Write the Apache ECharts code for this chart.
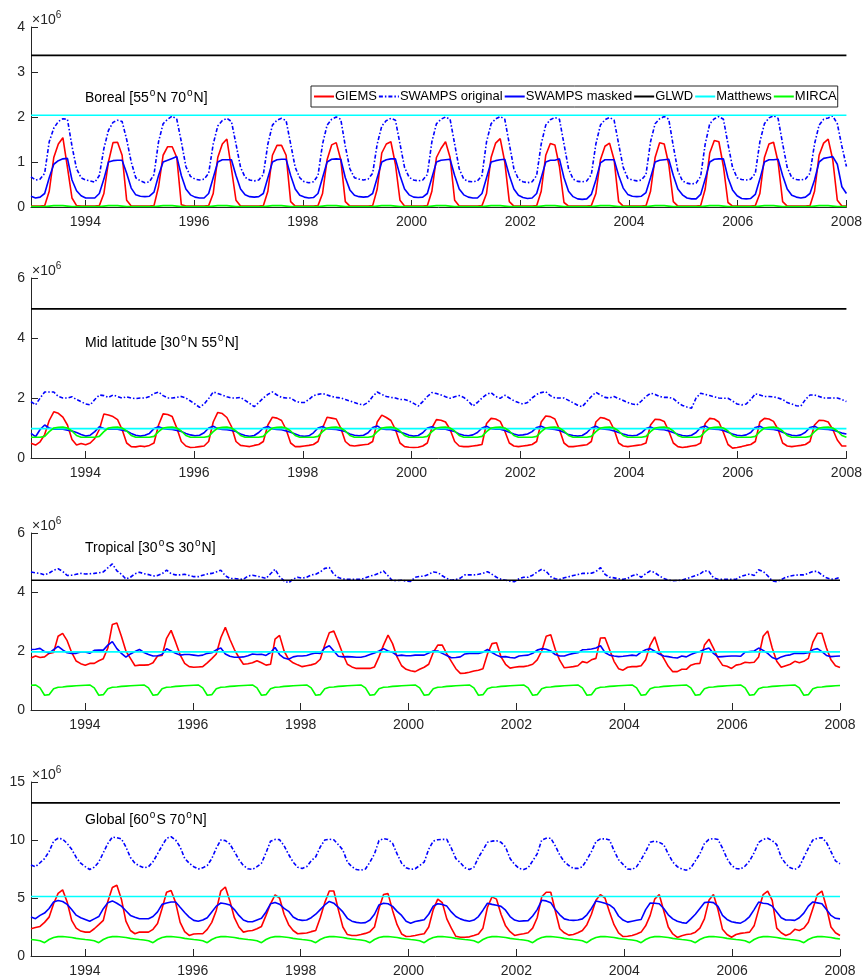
<!DOCTYPE html>
<html><head><meta charset="utf-8">
<script src="https://cdn.jsdelivr.net/npm/echarts@6/dist/echarts.min.js"></script>
<style>html,body{margin:0;padding:0;background:#fff}#c{width:865px;height:980px}</style>
</head><body><div id="c"></div>
<script>
// ---------- time / ticks ----------
const START_YEAR = 1993, END_YEAR = 2008, N_MONTHS = 180;
const yearTicks = [1994, 1996, 1998, 2000, 2002, 2004, 2006, 2008];
const seriesNames = ['GIEMS', 'SWAMPS original', 'SWAMPS masked', 'GLWD', 'Matthews', 'MIRCA'];
const yTicks = [[0,1,2,3,4],[0,2,4,6],[0,2,4,6],[0,5,10,15]];

// ---------- constants (×10^6 km²) ----------
const GLWD = [3.37, 4.97, 4.40, 13.2];
const Matthews = [2.04, 0.98, 1.97, 5.13];

// ---------- Boreal [55N 70N] (one row per year, Jan..Dec) ----------
const borealGIEMS = [
[0.02,0.02,0.02,0.03,0.35,1.10,1.40,1.54,0.88,0.20,0.03,0.02],
[0.02,0.02,0.02,0.03,0.30,1.00,1.43,1.44,1.15,0.15,0.02,0.02],
[0.02,0.02,0.02,0.03,0.45,1.15,1.34,1.34,1.10,0.05,0.02,0.02],
[0.02,0.02,0.02,0.03,0.30,1.10,1.40,1.51,0.85,0.15,0.02,0.02],
[0.02,0.02,0.02,0.03,0.35,1.15,1.37,1.37,1.15,0.12,0.02,0.02],
[0.02,0.02,0.02,0.03,0.30,1.05,1.38,1.43,1.05,0.12,0.02,0.02],
[0.02,0.02,0.02,0.03,0.40,1.20,1.40,1.45,0.95,0.15,0.02,0.02],
[0.02,0.02,0.02,0.03,0.35,1.10,1.30,1.45,1.10,0.15,0.02,0.02],
[0.02,0.02,0.02,0.03,0.30,1.10,1.42,1.52,1.00,0.12,0.02,0.02],
[0.02,0.02,0.02,0.03,0.35,1.15,1.41,1.38,0.90,0.10,0.02,0.02],
[0.02,0.02,0.02,0.03,0.30,1.05,1.35,1.42,1.05,0.12,0.02,0.02],
[0.02,0.02,0.02,0.03,0.35,1.10,1.43,1.40,0.95,0.12,0.02,0.02],
[0.02,0.02,0.02,0.03,0.40,1.20,1.48,1.45,0.90,0.10,0.02,0.02],
[0.02,0.02,0.02,0.03,0.30,1.10,1.40,1.44,1.00,0.12,0.02,0.02],
[0.02,0.02,0.02,0.03,0.35,1.15,1.42,1.51,1.05,0.15,0.02,0.02]];
const borealSWAMPSorig = [
[0.67,0.60,0.62,0.75,1.45,1.75,1.90,1.96,1.95,1.35,0.85,0.65],
[0.60,0.58,0.55,0.70,1.30,1.70,1.88,1.93,1.90,1.50,1.00,0.65],
[0.58,0.54,0.56,0.72,1.45,1.85,1.95,2.02,1.95,1.45,0.90,0.68],
[0.62,0.60,0.62,0.75,1.40,1.80,1.92,1.97,1.90,1.40,0.88,0.66],
[0.60,0.58,0.60,0.72,1.40,1.82,1.93,1.97,1.92,1.40,0.88,0.65],
[0.56,0.54,0.56,0.70,1.40,1.82,1.95,2.00,1.95,1.35,0.85,0.65],
[0.62,0.60,0.62,0.75,1.40,1.80,1.92,1.97,1.93,1.40,0.88,0.66],
[0.60,0.58,0.60,0.72,1.45,1.85,1.95,2.00,1.95,1.40,0.85,0.62],
[0.57,0.56,0.58,0.70,1.45,1.85,1.96,2.01,1.95,1.40,0.85,0.62],
[0.56,0.54,0.56,0.70,1.40,1.82,1.94,1.99,1.95,1.40,0.85,0.62],
[0.57,0.56,0.58,0.72,1.40,1.82,1.94,1.99,1.93,1.40,0.88,0.64],
[0.60,0.58,0.60,0.72,1.45,1.85,1.96,2.01,1.95,1.35,0.80,0.58],
[0.53,0.51,0.53,0.68,1.40,1.85,1.96,2.01,1.95,1.40,0.88,0.65],
[0.61,0.60,0.62,0.75,1.45,1.85,1.98,2.03,1.97,1.40,0.88,0.65],
[0.61,0.60,0.62,0.75,1.40,1.82,1.95,1.98,2.02,1.85,1.35,0.90]];
const borealSWAMPSmask = [
[0.24,0.20,0.22,0.30,0.65,0.95,1.03,1.07,1.08,0.60,0.36,0.25],
[0.20,0.20,0.20,0.30,0.62,1.00,1.03,1.04,1.04,0.75,0.42,0.27],
[0.24,0.23,0.24,0.33,0.70,1.00,1.04,1.08,1.12,0.70,0.40,0.27],
[0.22,0.20,0.20,0.30,0.65,1.00,1.05,1.05,1.05,0.70,0.40,0.27],
[0.23,0.22,0.23,0.30,0.65,1.00,1.05,1.06,1.06,0.70,0.40,0.26],
[0.22,0.20,0.21,0.30,0.65,1.00,1.06,1.07,1.06,0.65,0.38,0.26],
[0.23,0.22,0.23,0.30,0.65,1.00,1.05,1.07,1.07,0.70,0.40,0.27],
[0.22,0.21,0.22,0.30,0.65,1.00,1.04,1.05,1.06,0.70,0.40,0.27],
[0.22,0.20,0.20,0.30,0.65,1.00,1.03,1.05,1.06,0.70,0.40,0.26],
[0.21,0.19,0.20,0.30,0.65,1.00,1.04,1.04,1.07,0.65,0.35,0.23],
[0.18,0.17,0.18,0.28,0.60,0.98,1.05,1.05,1.05,0.70,0.42,0.28],
[0.24,0.23,0.24,0.32,0.65,1.00,1.04,1.05,1.06,0.70,0.40,0.27],
[0.20,0.18,0.18,0.28,0.62,1.00,1.06,1.07,1.07,0.65,0.38,0.25],
[0.19,0.18,0.19,0.28,0.62,1.00,1.05,1.05,1.06,0.70,0.40,0.26],
[0.22,0.20,0.22,0.30,0.60,1.00,1.08,1.10,1.12,0.95,0.45,0.30]];
const borealMIRCA = [
[0.01,0.01,0.01,0.01,0.02,0.03,0.03,0.03,0.02,0.01,0.01,0.01],
[0.01,0.01,0.01,0.01,0.02,0.03,0.03,0.03,0.02,0.01,0.01,0.01],
[0.01,0.01,0.01,0.01,0.02,0.03,0.03,0.03,0.02,0.01,0.01,0.01],
[0.01,0.01,0.01,0.01,0.02,0.03,0.03,0.03,0.02,0.01,0.01,0.01],
[0.01,0.01,0.01,0.01,0.02,0.03,0.03,0.03,0.02,0.01,0.01,0.01],
[0.01,0.01,0.01,0.01,0.02,0.03,0.03,0.03,0.02,0.01,0.01,0.01],
[0.01,0.01,0.01,0.01,0.02,0.03,0.03,0.03,0.02,0.01,0.01,0.01],
[0.01,0.01,0.01,0.01,0.02,0.03,0.03,0.03,0.02,0.01,0.01,0.01],
[0.01,0.01,0.01,0.01,0.02,0.03,0.03,0.03,0.02,0.01,0.01,0.01],
[0.01,0.01,0.01,0.01,0.02,0.03,0.03,0.03,0.02,0.01,0.01,0.01],
[0.01,0.01,0.01,0.01,0.02,0.03,0.03,0.03,0.02,0.01,0.01,0.01],
[0.01,0.01,0.01,0.01,0.02,0.03,0.03,0.03,0.02,0.01,0.01,0.01],
[0.01,0.01,0.01,0.01,0.02,0.03,0.03,0.03,0.02,0.01,0.01,0.01],
[0.01,0.01,0.01,0.01,0.02,0.03,0.03,0.03,0.02,0.01,0.01,0.01],
[0.01,0.01,0.01,0.01,0.02,0.03,0.03,0.03,0.02,0.01,0.01,0.01]];

// ---------- Mid latitude [30N 55N] ----------
const midGIEMS = [
[0.49,0.43,0.54,0.78,1.25,1.54,1.49,1.36,1.10,0.62,0.43,0.48],
[0.44,0.50,0.65,0.95,1.47,1.43,1.38,1.28,0.95,0.50,0.38,0.37],
[0.40,0.38,0.42,0.50,1.10,1.47,1.45,1.38,1.00,0.55,0.40,0.35],
[0.36,0.38,0.40,0.55,1.20,1.52,1.48,1.35,1.05,0.55,0.42,0.40],
[0.38,0.42,0.45,0.55,1.10,1.36,1.33,1.25,0.95,0.50,0.38,0.38],
[0.40,0.42,0.45,0.55,1.00,1.36,1.33,1.30,1.00,0.55,0.42,0.40],
[0.42,0.44,0.46,0.55,1.20,1.43,1.35,1.25,0.95,0.50,0.38,0.36],
[0.35,0.36,0.40,0.50,1.00,1.28,1.26,1.20,0.95,0.55,0.40,0.38],
[0.38,0.40,0.42,0.45,1.15,1.32,1.30,1.22,0.90,0.50,0.40,0.38],
[0.40,0.42,0.45,0.55,1.20,1.40,1.38,1.30,0.95,0.50,0.38,0.38],
[0.40,0.42,0.44,0.55,1.20,1.35,1.32,1.25,0.95,0.50,0.40,0.38],
[0.40,0.42,0.44,0.50,1.10,1.29,1.28,1.22,0.90,0.50,0.38,0.35],
[0.37,0.40,0.42,0.50,1.15,1.32,1.30,1.20,0.85,0.45,0.33,0.35],
[0.38,0.42,0.45,0.55,1.20,1.32,1.30,1.22,0.95,0.50,0.40,0.38],
[0.40,0.42,0.45,0.55,1.10,1.26,1.25,1.20,0.95,0.60,0.40,0.40]];
const midSWAMPSorig = [
[1.88,1.77,2.00,2.20,2.20,2.20,2.05,2.00,2.00,2.04,1.95,1.88],
[1.80,1.77,1.95,2.10,2.08,2.02,2.10,2.05,2.00,2.04,2.00,1.98],
[2.00,2.00,2.05,2.15,2.20,2.08,2.00,2.00,2.02,2.05,2.00,1.90],
[1.80,1.69,1.80,1.98,2.20,2.15,2.10,2.04,2.00,2.00,2.02,1.92],
[1.82,1.71,1.85,2.00,2.12,2.20,2.10,2.02,2.00,2.00,1.90,1.85],
[1.85,1.95,2.08,2.12,2.15,2.10,2.05,2.02,2.00,1.95,1.90,1.85],
[1.80,1.77,1.85,2.05,2.20,2.12,2.05,2.02,2.00,1.95,1.95,1.90],
[1.82,1.73,1.88,2.05,2.18,2.15,2.10,2.04,1.99,2.04,2.08,2.02],
[1.90,1.73,1.85,2.00,2.12,2.18,2.05,1.99,2.09,2.00,1.91,1.85],
[1.80,1.85,2.00,2.12,2.18,2.21,2.08,2.00,2.00,2.00,1.92,1.84],
[1.76,1.71,1.88,2.05,2.19,2.10,2.02,2.00,2.05,1.98,1.92,1.85],
[1.80,1.77,1.90,2.05,2.16,2.12,2.05,2.02,2.02,1.98,1.85,1.75],
[1.70,1.66,2.00,2.16,2.12,2.08,2.04,2.00,1.99,1.99,1.90,1.80],
[1.77,1.80,1.95,2.14,2.10,2.05,2.05,2.04,2.00,1.95,1.85,1.80],
[1.74,1.73,1.95,2.10,2.10,2.05,2.00,2.00,2.00,2.00,1.95,1.88]];
const midSWAMPSmask = [
[0.82,0.71,0.95,1.10,1.00,0.96,0.96,0.96,0.93,0.90,0.85,0.78],
[0.73,0.76,0.88,1.04,0.98,0.96,0.97,0.96,0.93,0.90,0.82,0.76],
[0.73,0.76,0.82,0.98,1.04,0.98,0.96,0.95,0.92,0.88,0.82,0.77],
[0.74,0.76,0.84,1.00,1.06,0.98,0.95,0.94,0.92,0.88,0.80,0.75],
[0.72,0.75,0.85,1.00,1.05,0.97,0.95,0.94,0.90,0.86,0.80,0.74],
[0.72,0.74,0.84,1.00,1.05,0.97,0.96,0.95,0.92,0.88,0.80,0.76],
[0.74,0.76,0.84,1.02,1.07,0.97,0.95,0.95,0.92,0.87,0.82,0.76],
[0.73,0.75,0.84,1.00,1.04,0.98,0.96,0.96,0.92,0.88,0.80,0.76],
[0.74,0.77,0.85,1.00,1.06,0.98,0.96,0.96,0.92,0.86,0.80,0.76],
[0.77,0.80,0.88,1.02,1.06,0.99,0.97,0.95,0.92,0.86,0.78,0.75],
[0.73,0.75,0.84,1.00,1.06,0.98,0.96,0.94,0.90,0.85,0.80,0.76],
[0.74,0.76,0.84,0.98,1.03,0.97,0.95,0.94,0.90,0.85,0.79,0.75],
[0.73,0.76,0.85,1.02,1.07,0.98,0.96,0.95,0.92,0.86,0.80,0.76],
[0.74,0.77,0.85,1.02,1.06,0.98,0.96,0.95,0.92,0.86,0.80,0.76],
[0.74,0.77,0.86,1.02,1.06,0.98,0.96,0.95,0.93,0.88,0.83,0.80]];
const midMIRCA = [
[0.69,0.69,0.69,0.72,0.88,1.00,1.02,1.03,1.00,0.90,0.75,0.69],
[0.69,0.69,0.69,0.72,0.88,1.00,1.02,1.03,1.00,0.90,0.75,0.69],
[0.69,0.69,0.69,0.72,0.88,1.00,1.02,1.03,1.00,0.90,0.75,0.69],
[0.69,0.69,0.69,0.72,0.88,1.00,1.02,1.03,1.00,0.90,0.75,0.69],
[0.69,0.69,0.69,0.72,0.88,1.00,1.02,1.03,1.00,0.90,0.75,0.69],
[0.69,0.69,0.69,0.72,0.88,1.00,1.02,1.03,1.00,0.90,0.75,0.69],
[0.69,0.69,0.69,0.72,0.88,1.00,1.02,1.03,1.00,0.90,0.75,0.69],
[0.69,0.69,0.69,0.72,0.88,1.00,1.02,1.03,1.00,0.90,0.75,0.69],
[0.69,0.69,0.69,0.72,0.88,1.00,1.02,1.03,1.00,0.90,0.75,0.69],
[0.69,0.69,0.69,0.72,0.88,1.00,1.02,1.03,1.00,0.90,0.75,0.69],
[0.69,0.69,0.69,0.72,0.88,1.00,1.02,1.03,1.00,0.90,0.75,0.69],
[0.69,0.69,0.69,0.72,0.88,1.00,1.02,1.03,1.00,0.90,0.75,0.69],
[0.69,0.69,0.69,0.72,0.88,1.00,1.02,1.03,1.00,0.90,0.75,0.69],
[0.69,0.69,0.69,0.72,0.88,1.00,1.02,1.03,1.00,0.90,0.75,0.69],
[0.69,0.69,0.69,0.72,0.88,1.00,1.02,1.03,1.00,0.90,0.75,0.69]];

// ---------- Tropical [30S 30N] ----------
const tropGIEMS = [
[1.76,1.83,1.78,1.80,1.92,1.95,2.50,2.60,2.35,1.95,1.66,1.57],
[1.52,1.58,1.58,1.67,1.74,2.10,2.90,2.95,2.50,2.00,1.75,1.50],
[1.52,1.52,1.53,1.60,1.83,1.85,2.43,2.70,2.30,1.87,1.58,1.47],
[1.45,1.46,1.47,1.60,1.74,1.90,2.45,2.80,2.40,2.05,1.78,1.55],
[1.57,1.60,1.67,1.60,1.52,1.55,2.40,2.53,2.00,1.72,1.60,1.53],
[1.47,1.50,1.53,1.58,1.72,2.20,2.62,2.68,2.30,1.90,1.55,1.46],
[1.41,1.41,1.41,1.41,1.46,1.80,2.20,2.54,2.25,1.80,1.50,1.38],
[1.33,1.30,1.38,1.45,1.55,1.95,2.20,2.20,1.90,1.65,1.40,1.24],
[1.25,1.28,1.32,1.35,1.40,1.90,2.25,2.28,1.80,1.55,1.42,1.45],
[1.47,1.47,1.50,1.55,1.70,2.00,2.50,2.55,2.05,1.68,1.43,1.45],
[1.47,1.50,1.64,1.60,1.70,1.75,2.44,2.45,2.05,1.65,1.40,1.35],
[1.45,1.47,1.47,1.50,1.70,2.20,2.48,2.00,1.75,1.48,1.30,1.30],
[1.38,1.38,1.52,1.57,1.58,2.20,2.40,2.10,1.75,1.52,1.48,1.41],
[1.52,1.55,1.62,1.60,1.62,1.80,2.50,2.68,2.10,1.65,1.45,1.50],
[1.55,1.65,1.60,1.65,1.75,2.30,2.60,2.60,2.10,1.70,1.50,1.44]];
const tropSWAMPSorig = [
[4.68,4.65,4.63,4.58,4.64,4.74,4.79,4.70,4.56,4.57,4.60,4.63],
[4.61,4.62,4.63,4.65,4.68,4.82,4.95,4.72,4.60,4.44,4.50,4.62],
[4.67,4.62,4.59,4.54,4.56,4.62,4.74,4.62,4.58,4.58,4.60,4.56],
[4.52,4.52,4.57,4.61,4.63,4.68,4.74,4.55,4.46,4.46,4.44,4.43],
[4.54,4.57,4.54,4.50,4.46,4.62,4.77,4.52,4.38,4.31,4.44,4.50],
[4.47,4.50,4.58,4.60,4.68,4.80,4.83,4.60,4.49,4.44,4.43,4.43],
[4.43,4.43,4.48,4.54,4.58,4.64,4.71,4.55,4.38,4.39,4.40,4.37],
[4.36,4.50,4.53,4.54,4.60,4.68,4.66,4.55,4.46,4.40,4.42,4.47],
[4.58,4.58,4.58,4.60,4.63,4.69,4.60,4.50,4.43,4.40,4.37,4.35],
[4.45,4.50,4.50,4.57,4.68,4.77,4.70,4.52,4.45,4.43,4.48,4.52],
[4.56,4.59,4.63,4.63,4.64,4.69,4.83,4.60,4.50,4.48,4.45,4.43],
[4.46,4.55,4.60,4.50,4.62,4.71,4.66,4.55,4.46,4.41,4.38,4.39],
[4.40,4.45,4.50,4.55,4.61,4.72,4.70,4.48,4.43,4.43,4.43,4.43],
[4.43,4.52,4.57,4.61,4.56,4.75,4.70,4.55,4.38,4.35,4.42,4.50],
[4.54,4.57,4.58,4.58,4.63,4.70,4.70,4.58,4.48,4.43,4.45,4.50]];
const tropSWAMPSmask = [
[2.05,2.06,2.09,1.98,1.93,2.05,2.16,2.04,1.94,1.92,1.92,1.97],
[1.97,1.92,2.02,2.03,2.03,2.20,2.32,2.08,1.92,1.79,1.90,1.98],
[2.05,1.95,1.88,1.83,1.84,1.88,2.08,2.00,1.92,1.86,1.88,1.88],
[1.86,1.84,1.86,1.92,1.94,2.04,2.10,1.90,1.82,1.79,1.79,1.80],
[1.84,1.90,1.88,1.89,1.85,1.95,2.12,1.88,1.76,1.72,1.80,1.83],
[1.83,1.85,1.90,1.93,1.92,2.10,2.18,2.00,1.82,1.80,1.81,1.80],
[1.79,1.79,1.82,1.88,1.93,2.00,2.08,2.00,1.95,1.84,1.86,1.84],
[1.84,1.86,1.86,1.86,1.93,2.00,2.00,1.92,1.85,1.77,1.78,1.80],
[1.90,1.92,1.92,1.92,1.96,2.05,1.95,1.86,1.80,1.81,1.78,1.76],
[1.83,1.85,1.86,1.92,2.03,2.08,2.06,2.00,1.88,1.83,1.83,1.88],
[1.92,1.94,2.04,2.05,2.07,2.10,2.18,1.95,1.86,1.83,1.81,1.82],
[1.84,1.86,1.84,1.96,2.04,2.08,1.99,1.90,1.83,1.81,1.78,1.76],
[1.83,1.80,1.88,1.94,1.98,2.05,2.10,1.92,1.80,1.81,1.82,1.83],
[1.83,1.82,1.96,1.98,2.00,2.10,2.02,1.92,1.78,1.72,1.80,1.85],
[1.87,1.92,1.92,1.92,1.94,2.04,2.08,1.98,1.85,1.81,1.82,1.83]];
const tropMIRCA = [
[0.84,0.85,0.75,0.50,0.52,0.72,0.77,0.78,0.80,0.81,0.82,0.83],
[0.84,0.85,0.75,0.50,0.52,0.72,0.77,0.78,0.80,0.81,0.82,0.83],
[0.84,0.85,0.75,0.50,0.52,0.72,0.77,0.78,0.80,0.81,0.82,0.83],
[0.84,0.85,0.75,0.50,0.52,0.72,0.77,0.78,0.80,0.81,0.82,0.83],
[0.84,0.85,0.75,0.50,0.52,0.72,0.77,0.78,0.80,0.81,0.82,0.83],
[0.84,0.85,0.75,0.50,0.52,0.72,0.77,0.78,0.80,0.81,0.82,0.83],
[0.84,0.85,0.75,0.50,0.52,0.72,0.77,0.78,0.80,0.81,0.82,0.83],
[0.84,0.85,0.75,0.50,0.52,0.72,0.77,0.78,0.80,0.81,0.82,0.83],
[0.84,0.85,0.75,0.50,0.52,0.72,0.77,0.78,0.80,0.81,0.82,0.83],
[0.84,0.85,0.75,0.50,0.52,0.72,0.77,0.78,0.80,0.81,0.82,0.83],
[0.84,0.85,0.75,0.50,0.52,0.72,0.77,0.78,0.80,0.81,0.82,0.83],
[0.84,0.85,0.75,0.50,0.52,0.72,0.77,0.78,0.80,0.81,0.82,0.83],
[0.84,0.85,0.75,0.50,0.52,0.72,0.77,0.78,0.80,0.81,0.82,0.83],
[0.84,0.85,0.75,0.50,0.52,0.72,0.77,0.78,0.80,0.81,0.82,0.83],
[0.84,0.85,0.75,0.50,0.52,0.72,0.77,0.78,0.80,0.81,0.82,0.83]];

// ---------- Global [60S 70N] ----------
const globGIEMS = [
[2.35,2.45,2.55,2.90,3.35,4.50,5.40,5.70,4.65,3.07,2.40,2.15],
[2.06,2.06,2.35,2.70,3.07,4.70,5.90,6.10,4.90,3.00,2.20,1.92],
[2.06,2.06,2.06,2.30,2.80,4.10,5.50,5.65,4.60,2.90,2.10,1.77],
[1.90,1.92,1.92,2.30,2.90,3.93,5.60,5.95,4.75,3.30,2.50,2.06],
[2.15,2.20,2.35,2.55,3.50,4.50,5.26,5.00,3.60,2.70,2.20,1.92],
[1.95,1.98,2.10,2.20,3.30,4.60,5.60,5.60,4.00,2.50,1.85,1.77],
[1.77,1.85,1.95,2.10,2.50,4.10,5.30,5.38,3.93,2.70,1.90,1.68],
[1.70,1.77,1.85,1.92,2.50,4.00,4.90,4.60,3.20,2.40,1.70,1.62],
[1.62,1.65,1.77,1.90,2.40,4.20,5.10,4.90,3.60,2.60,2.10,1.77],
[1.85,1.92,2.00,2.40,3.30,5.10,5.50,5.50,3.90,2.35,2.00,1.80],
[1.85,2.00,2.20,2.70,3.60,4.80,5.30,5.00,3.80,2.70,2.00,1.68],
[1.70,1.77,1.90,2.06,2.60,3.50,4.90,5.30,3.90,2.50,1.90,1.60],
[1.75,1.85,1.90,2.05,2.40,3.20,4.80,5.30,4.00,2.30,1.85,1.62],
[1.85,1.95,2.00,2.06,2.60,4.00,5.30,5.60,4.80,2.40,2.00,1.77],
[1.92,2.30,2.20,2.40,2.90,4.10,5.30,5.60,4.20,2.50,2.00,1.77]];
const globSWAMPSorig = [
[7.84,7.70,8.04,8.40,9.00,9.90,10.15,10.08,9.70,9.20,8.50,8.00],
[7.70,7.46,7.65,8.10,8.90,9.70,10.25,10.20,10.10,9.40,8.50,8.00],
[7.76,7.60,7.70,8.13,8.80,9.50,10.15,10.28,10.00,9.40,8.42,8.00],
[7.70,7.50,7.60,7.80,8.40,9.30,10.00,9.95,9.65,9.00,8.30,7.80],
[7.52,7.46,7.70,8.00,8.90,9.90,10.05,10.03,9.50,8.75,8.10,7.65],
[7.55,7.70,8.20,8.55,9.40,10.00,10.07,10.02,9.60,9.14,8.10,7.70],
[7.45,7.40,7.50,8.10,8.80,9.95,10.12,10.05,9.72,8.80,8.00,7.60],
[7.46,7.52,7.80,8.10,9.20,9.90,10.02,10.05,10.05,9.30,8.40,8.05],
[7.60,7.46,7.65,8.50,9.14,9.80,9.90,9.94,9.80,9.40,8.40,7.90],
[7.55,7.46,7.60,8.20,8.80,10.00,10.15,10.15,9.50,8.70,8.13,7.80],
[7.55,7.55,7.70,8.30,9.00,9.86,10.10,10.10,10.00,9.10,8.30,7.90],
[7.50,7.46,7.70,8.30,9.00,9.80,9.90,9.80,9.60,8.80,8.10,7.70],
[7.50,7.40,7.60,8.20,8.80,9.70,10.05,10.12,10.05,9.30,8.40,7.80],
[7.55,7.50,7.75,8.20,8.90,9.80,10.05,10.15,9.95,9.60,8.50,7.95],
[7.60,7.46,7.70,8.50,9.30,10.00,10.15,10.20,9.80,9.00,8.20,7.95]];
const globSWAMPSmask = [
[3.36,3.22,3.50,3.70,4.10,4.66,4.78,4.70,4.45,4.00,3.52,3.30],
[3.15,3.00,3.20,3.40,4.08,4.60,4.75,4.55,4.30,3.90,3.50,3.35],
[3.21,3.21,3.21,3.40,3.80,4.45,4.57,4.66,4.66,4.20,3.75,3.35],
[3.07,3.00,3.10,3.30,3.80,4.30,4.57,4.50,4.40,4.00,3.50,3.10],
[2.95,2.95,3.10,3.25,3.80,4.50,4.62,4.46,4.10,3.85,3.36,3.15],
[3.07,3.10,3.30,3.60,4.00,4.40,4.70,4.55,4.20,3.80,3.25,3.00],
[2.90,2.85,2.88,3.10,3.60,4.40,4.55,4.50,4.28,3.85,3.50,3.00],
[2.83,2.98,3.05,3.13,3.60,4.30,4.51,4.45,4.30,3.80,3.40,3.20],
[3.07,3.00,3.10,3.40,3.95,4.55,4.45,4.37,4.28,3.95,3.40,3.10],
[3.00,3.03,3.05,3.45,4.00,4.80,4.75,4.60,4.00,3.55,3.20,3.10],
[3.07,3.10,3.20,3.55,4.10,4.74,4.65,4.55,4.40,4.10,3.45,3.10],
[2.92,3.00,3.08,3.15,4.00,4.57,4.55,4.51,4.10,3.55,3.20,3.00],
[2.88,2.83,3.20,3.60,4.10,4.60,4.66,4.60,4.28,3.50,3.15,2.95],
[2.88,2.83,3.05,3.40,4.00,4.65,4.55,4.51,4.30,3.80,3.30,3.10],
[3.10,3.07,3.30,3.70,4.30,4.66,4.58,4.50,4.00,3.50,3.25,3.20]];
const globMIRCA = [
[1.42,1.38,1.32,1.15,1.42,1.60,1.67,1.68,1.64,1.60,1.52,1.47],
[1.42,1.38,1.32,1.15,1.42,1.60,1.67,1.68,1.64,1.60,1.52,1.47],
[1.42,1.38,1.32,1.15,1.42,1.60,1.67,1.68,1.64,1.60,1.52,1.47],
[1.42,1.38,1.32,1.15,1.42,1.60,1.67,1.68,1.64,1.60,1.52,1.47],
[1.42,1.38,1.32,1.15,1.42,1.60,1.67,1.68,1.64,1.60,1.52,1.47],
[1.42,1.38,1.32,1.15,1.42,1.60,1.67,1.68,1.64,1.60,1.52,1.47],
[1.42,1.38,1.32,1.15,1.42,1.60,1.67,1.68,1.64,1.60,1.52,1.47],
[1.42,1.38,1.32,1.15,1.42,1.60,1.67,1.68,1.64,1.60,1.52,1.47],
[1.42,1.38,1.32,1.15,1.42,1.60,1.67,1.68,1.64,1.60,1.52,1.47],
[1.42,1.38,1.32,1.15,1.42,1.60,1.67,1.68,1.64,1.60,1.52,1.47],
[1.42,1.38,1.32,1.15,1.42,1.60,1.67,1.68,1.64,1.60,1.52,1.47],
[1.42,1.38,1.32,1.15,1.42,1.60,1.67,1.68,1.64,1.60,1.52,1.47],
[1.42,1.38,1.32,1.15,1.42,1.60,1.67,1.68,1.64,1.60,1.52,1.47],
[1.42,1.38,1.32,1.15,1.42,1.60,1.67,1.68,1.64,1.60,1.52,1.47],
[1.42,1.38,1.32,1.15,1.42,1.60,1.67,1.68,1.64,1.60,1.52,1.47]];

// ---------- build chart ----------
const FONT = 'Liberation Sans, Arial, Helvetica, sans-serif';
const AX = '#262626';
const time = Array.from({length: N_MONTHS}, (_, i) => START_YEAR + i * (END_YEAR - START_YEAR) / (N_MONTHS - 1));

const panels = [
  {title: ['Boreal [55', 'N 70', 'N]'], data: [borealGIEMS, borealSWAMPSorig, borealSWAMPSmask, borealMIRCA],
   grid: {left: 31, right: 16, top: 27, height: 180}, tTop: 88},
  {title: ['Mid latitude [30', 'N 55', 'N]'], data: [midGIEMS, midSWAMPSorig, midSWAMPSmask, midMIRCA],
   grid: {left: 31, right: 16, top: 278, height: 180}, tTop: 333},
  {title: ['Tropical [30', 'S 30', 'N]'], data: [tropGIEMS, tropSWAMPSorig, tropSWAMPSmask, tropMIRCA],
   grid: {left: 31, right: 25, top: 533, height: 177}, tTop: 538},
  {title: ['Global [60', 'S 70', 'N]'], data: [globGIEMS, globSWAMPSorig, globSWAMPSmask, globMIRCA],
   grid: {left: 31, right: 25, top: 782, height: 174}, tTop: 810}
];

const colors = {GIEMS: '#ff0000', 'SWAMPS original': '#0000ff', 'SWAMPS masked': '#0000ff',
  GLWD: '#000000', Matthews: '#00ffff', MIRCA: '#00ff00'};
const dashDot = [4, 2, 1.5, 2];

const grids = [], xAxes = [], yAxes = [], series = [], titles = [];
const richT = {
  a: {fontSize: 14, fontFamily: FONT, fontWeight: 'normal', color: '#000', lineHeight: 20},
  s: {fontSize: 10, fontFamily: FONT, fontWeight: 'normal', color: '#000', lineHeight: 20, verticalAlign: 'top', padding: [0, 1, 0, 1]}
};
panels.forEach((p, gi) => {
  grids.push(Object.assign({containLabel: false}, p.grid));
  xAxes.push({type: 'value', gridIndex: gi, min: START_YEAR, max: END_YEAR,
    axisLine: {show: true, onZero: false, lineStyle: {color: AX, width: 1}},
    axisTick: {show: true, inside: true, length: 7, customValues: yearTicks, lineStyle: {color: AX}},
    axisLabel: {show: true, customValues: yearTicks, color: AX, fontSize: 14, fontFamily: FONT, margin: 8,
      formatter: v => String(v)},
    splitLine: {show: false}});
  const yt = yTicks[gi];
  yAxes.push({type: 'value', gridIndex: gi, min: yt[0], max: yt[yt.length - 1], interval: yt[1] - yt[0],
    axisLine: {show: true, lineStyle: {color: AX, width: 1}},
    axisTick: {show: true, inside: true, length: 7, lineStyle: {color: AX}},
    axisLabel: {color: AX, fontSize: 14, fontFamily: FONT, margin: 6},
    splitLine: {show: false}});
  const vals = [p.data[0].flat(), p.data[1].flat(), p.data[2].flat(),
    time.map(() => GLWD[gi]), time.map(() => Matthews[gi]), p.data[3].flat()];
  seriesNames.forEach((name, k) => {
    series.push({
      name, type: 'line', xAxisIndex: gi, yAxisIndex: gi, symbol: 'none', showSymbol: false,
      data: time.map((t, i) => [t, vals[k][i]]),
      lineStyle: {color: colors[name], width: 1.6, type: name === 'SWAMPS original' ? dashDot : 'solid'},
      itemStyle: {color: colors[name]}, silent: true, animation: false
    });
  });
  // ×10^6 exponent label
  titles.push({text: '{a|×10}{s|6}', left: 32, top: p.grid.top - 17, padding: 0,
    textStyle: {fontWeight: 'normal', rich: {
      a: {fontSize: 14, fontFamily: FONT, fontWeight: 'normal', color: AX, lineHeight: 20},
      s: {fontSize: 10, fontFamily: FONT, fontWeight: 'normal', color: AX, lineHeight: 20, verticalAlign: 'top'}}}});
  // panel name
  titles.push({text: '{a|' + p.title[0] + '}{s|o}{a|' + p.title[1] + '}{s|o}{a|' + p.title[2] + '}',
    left: 85, top: p.tTop, padding: 0, textStyle: {fontWeight: 'normal', rich: richT}});
});

const chart = echarts.init(document.getElementById('c'), null, {renderer: 'canvas'});
chart.setOption({
  animation: false,
  backgroundColor: '#fff',
  title: titles,
  legend: {data: seriesNames, left: 311, top: 86, orient: 'horizontal',
    itemWidth: 20, itemHeight: 14, itemGap: 1, padding: [4, 1, 4, 2],
    backgroundColor: '#fff', borderColor: AX, borderWidth: 1, borderRadius: 0,
    itemStyle: {opacity: 0, borderWidth: 0},
    textStyle: {fontSize: 13, fontFamily: FONT, color: '#000', padding: [0, 0, 0, -4]},
    selectedMode: false},
  grid: grids, xAxis: xAxes, yAxis: yAxes, series
});
</script></body></html>
